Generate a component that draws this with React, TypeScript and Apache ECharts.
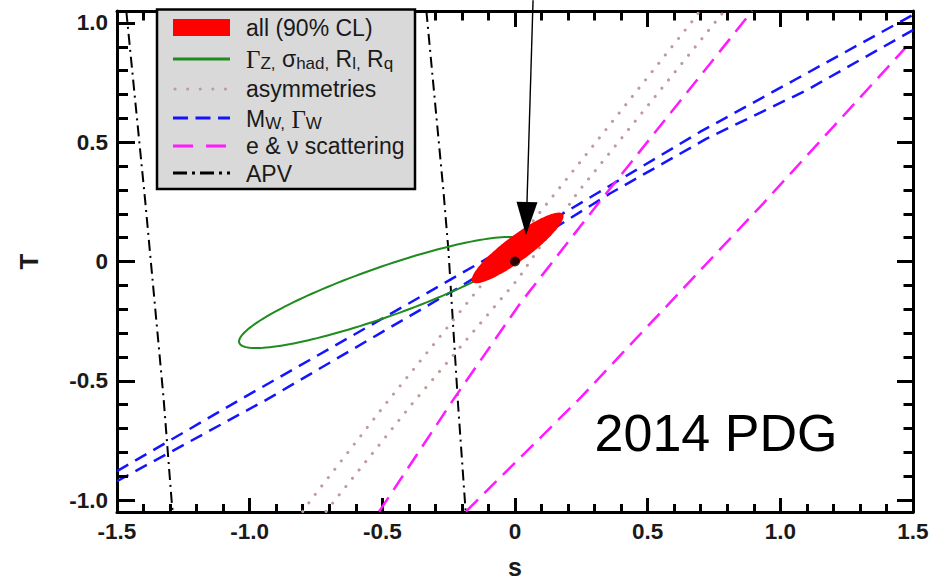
import React, { useEffect, useRef } from "react";
import * as echarts from "echarts";

// ---- axes ----
const xTicks = [-1.5, -1.0, -0.5, 0, 0.5, 1.0, 1.5];
const xTickLabels = ["-1.5", "-1.0", "-0.5", "0", "0.5", "1.0", "1.5"];
const yTicks = [-1.0, -0.5, 0, 0.5, 1.0];
const yTickLabels = ["-1.0", "-0.5", "0", "0.5", "1.0"];
const yMinorTicks = [-0.9, -0.8, -0.7, -0.6, -0.4, -0.3, -0.2, -0.1, 0.1, 0.2, 0.3, 0.4, 0.6, 0.7, 0.8, 0.9];
const xRange = [-1.5, 1.5];
const yRange = [-1.05, 1.05];

// ---- constraint bands (s, T) ----
const mwUpper = [[-1.5, -0.879], [-1.036, -0.579], [-0.509, -0.245], [-0.132, -0.005], [0.308, 0.285], [0.697, 0.543], [1.062, 0.766], [1.5, 1.034]];
const mwLower = [[-1.5, -0.921], [-0.936, -0.579], [-0.509, -0.301], [-0.207, -0.106], [0.358, 0.285], [0.722, 0.515], [1.099, 0.718], [1.5, 0.97]];
const asymLeft = [[-0.8, -1.048], [-0.773, -1.005], [-0.49, -0.6], [-0.232, -0.245], [0.151, 0.285], [0.685, 1.031], [0.695, 1.05]];
const asymRight = [[-0.712, -1.048], [-0.672, -0.991], [-0.383, -0.59], [0.01, -0.075], [0.233, 0.285], [0.785, 1.045], [0.789, 1.05]];
const enuLeft = [[-0.512, -1.048], [-0.23, -0.575], [0.019, -0.176], [0.314, 0.244], [0.886, 1.039], [0.894, 1.05]];
const enuRight = [[-0.185, -1.048], [0.24, -0.579], [0.936, 0.244], [1.5, 0.93]];
const apvLeft = [[-1.465, 1.05], [-1.394, 0.257], [-1.325, -0.566], [-1.294, -1.005], [-1.29, -1.048]];
const apvRight = [[-0.334, 1.05], [-0.27, 0.299], [-0.251, 0.048], [-0.214, -0.609], [-0.186, -1.048]];

// ellipses: centre, half-axis to vertical-tangent point, vertical half-chord
const zCenter = [-0.5, -0.13];
const zAxisA = [0.54, 0.205];
const zAxisB = [0, 0.11];
const allCenter = [0.01, 0.057];
const allAxisA = [0.173, 0.133];
const allAxisB = [0, 0.065];

const bestFit = [[0, 0]];
const arrowStart = [0.068, 1.095];
const arrowTip = [0.0415, 0.111];

const FONT = "Liberation Sans, Arial, Helvetica, sans-serif";
const SERIF = "Liberation Serif, DejaVu Serif, serif";
const C_GREEN = "#1e8c1e";
const C_PINK = "#c09a9a";
const C_BLUE = "#1414ff";
const C_MAG = "#ff1aff";
const C_RED = "#ff0000";
const C_TEXT = "#1a1a1a";

function fmt(ticks: number[], labels: string[]) {
  return (v: number) => {
    const i = ticks.findIndex((t) => Math.abs(t - v) < 1e-9);
    return i >= 0 ? labels[i] : "";
  };
}

function lineSeries(data: number[][], color: string, width: number, type: any, cap: string = "butt") {
  return {
    type: "line",
    data,
    xAxisIndex: 0,
    yAxisIndex: 0,
    showSymbol: false,
    symbol: "none",
    silent: true,
    clip: true,
    z: 2,
    lineStyle: { color, width, type, cap },
  };
}

function ellipseSeries(center: number[], a: number[], b: number[], style: any, z: number) {
  return {
    type: "custom",
    coordinateSystem: "cartesian2d",
    xAxisIndex: 0,
    yAxisIndex: 0,
    silent: true,
    z,
    data: [[center[0], center[1], a[0], a[1], b[0], b[1]]],
    encode: { x: 0, y: 1 },
    renderItem: (params: any, api: any) => {
      const cx = api.value(0), cy = api.value(1);
      const ax = api.value(2), ay = api.value(3);
      const bx = api.value(4), by = api.value(5);
      const pts: number[][] = [];
      const n = 160;
      for (let k = 0; k < n; k++) {
        const t = (2 * Math.PI * k) / n;
        pts.push(api.coord([cx + ax * Math.cos(t) + bx * Math.sin(t), cy + ay * Math.cos(t) + by * Math.sin(t)]));
      }
      return { type: "polygon", shape: { points: pts }, style };
    },
  };
}

// minor tick segments on the left/right frame sides (lengths in axis units)
const MINOR_LEFT = 11 / 265.33, MINOR_RIGHT = 9.5 / 265.33;
const minorTickLines: any[] = [];
yMinorTicks.forEach((v) => {
  minorTickLines.push({ coords: [[xRange[0], v], [xRange[0] + MINOR_LEFT, v]] });
  minorTickLines.push({ coords: [[xRange[1], v], [xRange[1] - MINOR_RIGHT, v]] });
});

function legendText(text: string, y: number, rich?: boolean) {
  const style: any = { text, fontFamily: FONT, fontSize: 23, fill: C_TEXT, verticalAlign: "middle" };
  if (rich) {
    style.lineHeight = 26;
    style.rich = {
      g: { fontFamily: SERIF, fontSize: 25, lineHeight: 26, fill: C_TEXT },
      s: { fontFamily: FONT, fontSize: 17, lineHeight: 12, verticalAlign: "bottom", fill: C_TEXT },
    };
  }
  return { type: "text", z: 101, x: 246, y, style };
}

const legendGraphics: any[] = [
  { type: "rect", z: 100, shape: { x: 157, y: 9.5, width: 258, height: 179.5 }, style: { fill: "#d9d9d9", stroke: "#000", lineWidth: 2.5 } },
  { type: "rect", z: 101, shape: { x: 173, y: 19, width: 57, height: 17 }, style: { fill: C_RED } },
  { type: "line", z: 101, shape: { x1: 173, y1: 59, x2: 230, y2: 59 }, style: { stroke: C_GREEN, lineWidth: 3 } },
  { type: "line", z: 101, shape: { x1: 175, y1: 89, x2: 230, y2: 89 }, style: { stroke: C_PINK, lineWidth: 3, lineDash: [0.1, 12.5], lineCap: "round" } },
  { type: "line", z: 101, shape: { x1: 173, y1: 118, x2: 230, y2: 118 }, style: { stroke: C_BLUE, lineWidth: 3, lineDash: [15, 7.5] } },
  { type: "line", z: 101, shape: { x1: 173, y1: 146, x2: 230, y2: 146 }, style: { stroke: C_MAG, lineWidth: 3, lineDash: [20, 13] } },
  { type: "line", z: 101, shape: { x1: 173, y1: 173, x2: 230, y2: 173 }, style: { stroke: "#000", lineWidth: 3, lineDash: [14, 5, 3, 5] } },
  legendText("all (90% CL)", 27.5),
  legendText("{g|Γ}{s|Z,} σ{s|had,} R{s|l,} R{s|q}", 59, true),
  legendText("asymmetries", 89),
  legendText("M{s|W,} {g|Γ}{s|W}", 119, true),
  legendText("e & ν scattering", 146),
  legendText("APV", 174),
  { type: "text", z: 50, x: 716, y: 433, style: { text: "2014 PDG", fontFamily: FONT, fontSize: 52, fill: "#000", align: "center", verticalAlign: "middle" } },
];

export default function App() {
  const ref = useRef<HTMLDivElement>(null);
  useEffect(() => {
    if (!ref.current) return;
    const chart = echarts.init(ref.current, null, { renderer: "svg" });

    const frameLine = { show: true, onZero: false, lineStyle: { color: "#000", width: 3 } };
    const labelStyle = { fontFamily: FONT, fontSize: 22.5, fontWeight: "bold", color: C_TEXT };

    const option: any = {
      animation: false,
      backgroundColor: "#ffffff",
      grid: { left: 117, right: 33, top: 11, bottom: 67, containLabel: false, outerBoundsMode: "none" },
      xAxis: [
        {
          type: "value",
          min: xRange[0],
          max: xRange[1],
          interval: 0.5,
          position: "bottom",
          axisLine: frameLine,
          axisTick: { show: true, inside: true, length: 14, lineStyle: { color: "#000", width: 3 } },
          minorTick: { show: true, splitNumber: 5, length: 8, lineStyle: { color: "#000", width: 3 } },
          splitLine: { show: false },
          axisLabel: { ...labelStyle, margin: 8, showMinLabel: true, showMaxLabel: true, formatter: fmt(xTicks, xTickLabels) },
          name: "s",
          nameLocation: "middle",
          nameGap: 42,
          nameTextStyle: { fontFamily: FONT, fontSize: 25, lineHeight: 25, fontWeight: "bold", color: C_TEXT },
        },
        {
          type: "value",
          min: xRange[0],
          max: xRange[1],
          interval: 0.5,
          position: "top",
          axisLine: frameLine,
          axisTick: { show: true, inside: true, length: 16, lineStyle: { color: "#000", width: 3 } },
          minorTick: { show: true, splitNumber: 5, length: 9.5, lineStyle: { color: "#000", width: 3 } },
          splitLine: { show: false },
          axisLabel: { show: false },
        },
      ],
      yAxis: [
        {
          type: "value",
          min: yRange[0],
          max: yRange[1],
          position: "left",
          axisLine: frameLine,
          axisTick: { show: true, inside: true, length: 18, customValues: yTicks, lineStyle: { color: "#000", width: 3 } },
          splitLine: { show: false },
          axisLabel: { ...labelStyle, margin: 9, customValues: yTicks, formatter: fmt(yTicks, yTickLabels) },
          name: "T",
          nameLocation: "middle",
          nameGap: 75,
          nameTextStyle: { fontFamily: FONT, fontSize: 26, fontWeight: "bold", color: C_TEXT },
        },
        {
          type: "value",
          min: yRange[0],
          max: yRange[1],
          position: "right",
          axisLine: frameLine,
          axisTick: { show: true, inside: true, length: 16, customValues: yTicks, lineStyle: { color: "#000", width: 3 } },
          splitLine: { show: false },
          axisLabel: { show: false },
        },
      ],
      series: [
        lineSeries(apvLeft, "#000", 2, [11, 5, 2, 5]),
        lineSeries(apvRight, "#000", 2, [11, 5, 2, 5]),
        lineSeries(asymLeft, C_PINK, 3, [0.1, 10.5], "round"),
        lineSeries(asymRight, C_PINK, 3, [0.1, 10.5], "round"),
        lineSeries(mwUpper, C_BLUE, 2.5, [13, 8]),
        lineSeries(mwLower, C_BLUE, 2.5, [13, 8]),
        lineSeries(enuLeft, C_MAG, 2.5, [17, 9]),
        lineSeries(enuRight, C_MAG, 2.5, [17, 9]),
        ellipseSeries(zCenter, zAxisA, zAxisB, { fill: "none", stroke: C_GREEN, lineWidth: 2 }, 3),
        ellipseSeries(allCenter, allAxisA, allAxisB, { fill: C_RED, stroke: "none" }, 4),
        {
          type: "scatter",
          data: bestFit,
          symbol: "circle",
          symbolSize: 10,
          itemStyle: { color: "#000" },
          silent: true,
          z: 5,
        },
        {
          type: "custom",
          coordinateSystem: "cartesian2d",
          silent: true,
          clip: false,
          z: 6,
          data: [[arrowStart[0], arrowStart[1], arrowTip[0], arrowTip[1]]],
          encode: { x: [0, 2], y: [1, 3] },
          renderItem: (params: any, api: any) => {
            const p0 = api.coord([api.value(0), api.value(1)]);
            const tip = api.coord([api.value(2), api.value(3)]);
            const dx = tip[0] - p0[0], dy = tip[1] - p0[1];
            const L = Math.hypot(dx, dy);
            const ux = dx / L, uy = dy / L;
            const headLen = 33, half = 10.5;
            const base = [tip[0] - ux * headLen, tip[1] - uy * headLen];
            const l = [base[0] - uy * half, base[1] + ux * half];
            const r = [base[0] + uy * half, base[1] - ux * half];
            return {
              type: "group",
              children: [
                { type: "line", shape: { x1: p0[0], y1: p0[1], x2: base[0], y2: base[1] }, style: { stroke: "#000", lineWidth: 1.4 } },
                { type: "polygon", shape: { points: [tip, l, r] }, style: { fill: "#000" } },
              ],
            };
          },
        },
        {
          type: "lines",
          coordinateSystem: "cartesian2d",
          xAxisIndex: 0,
          yAxisIndex: 0,
          silent: true,
          polyline: false,
          z: 8,
          symbol: ["none", "none"],
          lineStyle: { color: "#000", width: 3, opacity: 1, curveness: 0 },
          data: minorTickLines,
        },
      ],
      graphic: legendGraphics,
    };
    chart.setOption(option);
    return () => chart.dispose();
  }, []);
  return <div ref={ref} style={{ position: "absolute", left: 0, top: 0, width: 946, height: 579 }} />;
}
